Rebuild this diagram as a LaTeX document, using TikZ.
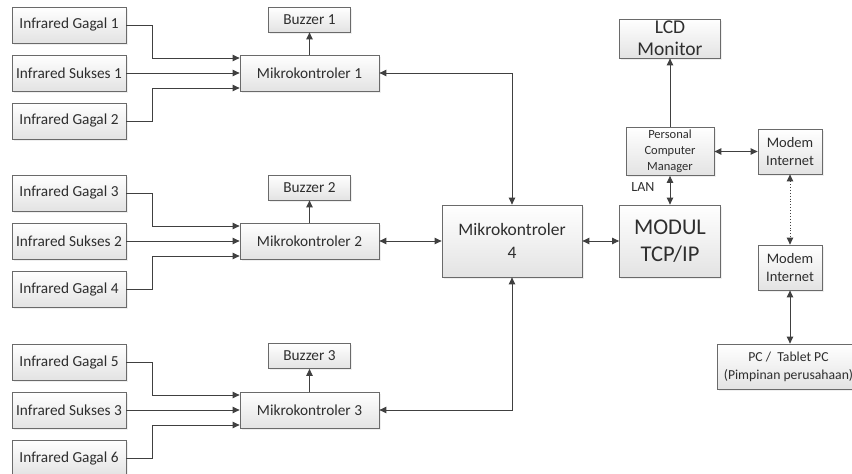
\documentclass[tikz,border=0pt]{standalone}
\usepackage{fontspec}
\setmainfont{Carlito}
\usetikzlibrary{arrows.meta,shadows}
\definecolor{boxline}{HTML}{6A6A6A}
\definecolor{wire}{HTML}{404040}
\definecolor{txt}{HTML}{2E2E2E}
\tikzset{
  blk/.style={draw=boxline, line width=0.8pt, top color=white, bottom color=black!11,
    text=txt, align=center, inner sep=0pt,
    drop shadow={opacity=0.12, shadow xshift=1.5pt, shadow yshift=-1.5pt},
    font=\fontsize{15.3}{18}\selectfont},
  ir/.style={blk, minimum width=114pt, minimum height=36pt},
  mk/.style={blk, minimum width=139pt, minimum height=36pt},
  bz/.style={blk, minimum width=82pt, minimum height=25pt},
  wr/.style={draw=wire, line width=0.9pt},
  tip/.style={-{Triangle[length=7pt,width=6.5pt]}},
  tips/.style={{Triangle[length=7pt,width=6.5pt]}-{Triangle[length=7pt,width=6.5pt]}},
}
\begin{document}
\begin{tikzpicture}[x=1pt,y=-1pt]
\useasboundingbox (0,0) rectangle (852,474);
\clip (0,0) rectangle (852,474);
\fill[white] (0,0) rectangle (852,474);

% group 1
\node[ir] (ig1) at (69,25) {Infrared Gagal 1};
\node[ir] (is1) at (69,73) {Infrared Sukses 1};
\node[ir] (ig2) at (69,121) {Infrared Gagal 2};
\node[mk] (m1) at (309.5,73) {Mikrokontroler 1};
\node[bz] (b1) at (309.5,19.5) {Buzzer 1};
% group 2
\node[ir] (ig3) at (69,193) {Infrared Gagal 3};
\node[ir] (is2) at (69,241) {Infrared Sukses 2};
\node[ir] (ig4) at (69,289) {Infrared Gagal 4};
\node[mk] (m2) at (309.5,241) {Mikrokontroler 2};
\node[bz] (b2) at (309.5,187.5) {Buzzer 2};
% group 3
\node[ir] (ig5) at (69,362) {Infrared Gagal 5};
\node[ir] (is3) at (69,410) {Infrared Sukses 3};
\node[ir] (ig6) at (69,458) {Infrared Gagal 6};
\node[mk] (m3) at (309.5,410) {Mikrokontroler 3};
\node[bz] (b3) at (309.5,356) {Buzzer 3};

% center
\node[blk, minimum width=140pt, minimum height=72pt, font=\fontsize{17.5}{23}\selectfont] (m4) at (512,241) {Mikrokontroler\\4};
\node[blk, minimum width=101pt, minimum height=72pt, font=\fontsize{22.5}{27}\selectfont] (tcp) at (670,241) {MODUL\\TCP/IP};
\node[blk, minimum width=88pt, minimum height=48pt, font=\fontsize{12.5}{16}\selectfont] (pcm) at (670,151.5) {Personal\\Computer\\Manager};
\node[blk, minimum width=101pt, minimum height=39pt, font=\fontsize{19.5}{22}\selectfont] (lcd) at (670,38.5) {LCD\\Monitor};
\node[blk, minimum width=64pt, minimum height=45pt, font=\fontsize{14.5}{18}\selectfont] (mod1) at (790,151.5) {Modem\\Internet};
\node[blk, minimum width=64pt, minimum height=45pt, font=\fontsize{14.5}{18}\selectfont] (mod2) at (790,267.5) {Modem\\Internet};
\node[blk, minimum width=143pt, minimum height=45pt, font=\fontsize{13.7}{18}\selectfont] (pct) at (788.5,366.5) {PC /\ \ Tablet PC\\(Pimpinan perusahaan)};
\node[text=txt, font=\fontsize{14}{16}\selectfont] (lan) at (643,187.5) {LAN};

% group wires
\foreach \g/\a/\s/\b/\m/\z in {1/ig1/is1/ig2/m1/b1, 2/ig3/is2/ig4/m2/b2, 3/ig5/is3/ig6/m3/b3}{
  \draw[wr,tip] (\a.east) -- ++(26,0) |- ([yshift=15pt]\m.west);
  \draw[wr,tip] (\s.east) -- (\m.west);
  \draw[wr,tip] (\b.east) -- ++(26,0) |- ([yshift=-15pt]\m.west);
  \draw[wr,tip] (\m.north) -- (\z.south);
}

\draw[wr,tips] (m1.east) -| (m4.north);
\draw[wr,tips] (m2.east) -- (m4.west);
\draw[wr,tips] (m3.east) -| (m4.south);
\draw[wr,tips] (m4.east) -- (tcp.west);
\draw[wr,tips] (pcm.south) -- (tcp.north);
\draw[wr,tip] (pcm.north) -- (lcd.south);
\draw[wr,tips] (pcm.east) -- (mod1.west);
\draw[wr,tips,dotted] (mod1.south) -- (mod2.north);
\draw[wr,tips] (mod2.south) -- (mod2.south |- pct.north);
\end{tikzpicture}
\end{document}
